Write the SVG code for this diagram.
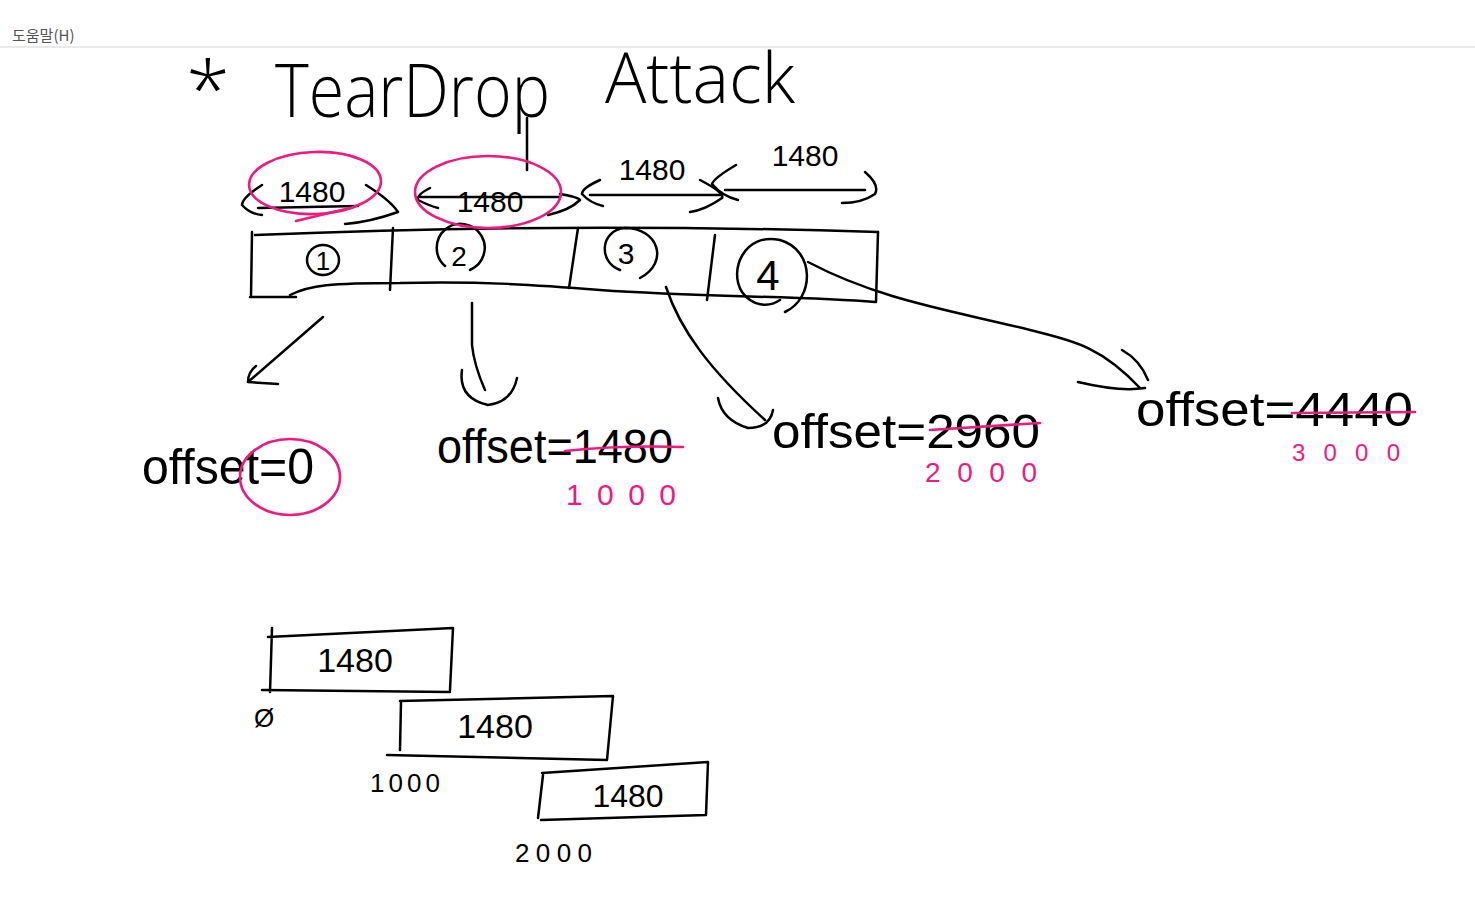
<svg xmlns="http://www.w3.org/2000/svg" width="1475" height="898" viewBox="0 0 1475 898">
<style>
.s{fill:none;stroke:#000;stroke-width:2.5;stroke-linecap:round;stroke-linejoin:round}
.p{fill:none;stroke:#ee1a7d;stroke-width:2.6;stroke-linecap:round;stroke-linejoin:round}
.t{font-family:"Liberation Sans",Arial,sans-serif;fill:#000}
.pt{font-family:"Liberation Sans",Arial,sans-serif;fill:#ee1a7d}
.h{font-family:"Open Sans","Liberation Sans",sans-serif;font-weight:300;fill:#000}
</style>
<rect width="1475" height="898" fill="#fff"/>
<g id="menu">
<text x="12" y="41" font-family="'Noto Sans CJK KR','Noto Sans',sans-serif" font-size="15" fill="#555">도움말(H)</text>
<line x1="0" y1="47" x2="1475" y2="47" stroke="#eaeaea" stroke-width="2"/>
</g>
<g id="title">
<text class="h" x="186" y="118" font-size="80">*</text>
<text class="h" x="275" y="117" font-size="74" textLength="275" lengthAdjust="spacingAndGlyphs">TearDrop</text>
<text class="h" x="605" y="103" font-size="70" textLength="190" lengthAdjust="spacingAndGlyphs">Attack</text>
<path class="s" d="M527,118 L527,170"/>
</g>
<g id="packet">
<path class="s" d="M255,235 Q560,222 878,232"/>
<path class="s" d="M252,232 L251,297 M250,297 L296,297"/>
<path class="s" d="M290,295 C310,285 330,283 400,283 C480,281 540,285 600,290 C700,297 800,296 875,302"/>
<path class="s" d="M878,232 L876,302"/>
<path class="s" d="M393,228 L390,290 M578,228 L569,288 M715,235 L707,300"/>
</g>
<g id="frag1">
<ellipse class="s" cx="323" cy="260" rx="16" ry="15"/>
<text class="t" x="323" y="270" font-size="26" text-anchor="middle">1</text>
</g>
<g id="frag2">
<path class="s" d="M470,270 A24,24 0 1 0 445,266"/>
<text class="t" x="459" y="266" font-size="28" text-anchor="middle">2</text>
</g>
<g id="frag3">
<path class="s" d="M640,278 C670,262 658,228 625,228 C600,230 598,262 620,270"/>
<text class="t" x="626" y="264" font-size="30" text-anchor="middle">3</text>
</g>
<g id="frag4">
<path class="s" d="M785,312 C815,298 815,250 780,240 C745,232 728,270 742,292 C752,306 768,308 780,300"/>
<text class="t" x="768" y="290" font-size="42" text-anchor="middle">4</text>
</g>
<g id="size1">
<text class="t" x="312" y="202" font-size="30" text-anchor="middle">1480</text>
<path class="s" d="M262,185 Q242,198 242,205 Q250,214 262,215 M258,208 L358,206 M366,185 Q390,200 398,212 Q370,222 345,224"/>
<ellipse class="p" cx="315" cy="183" rx="66" ry="31" transform="rotate(-2 315 183)"/>
<path class="p" d="M296,221 Q325,214 350,208"/>
</g>
<g id="size2">
<text class="t" x="490" y="212" font-size="30" text-anchor="middle">1480</text>
<path class="s" d="M430,188 Q416,195 418,200 Q430,206 438,208 M420,197 L560,197 M560,194 Q578,197 580,200 Q570,210 548,215"/>
<ellipse class="p" cx="488" cy="192" rx="73" ry="36"/>
</g>
<g id="size3">
<text class="t" x="652" y="180" font-size="30" text-anchor="middle">1480</text>
<path class="s" d="M600,180 Q582,188 582,194 Q590,203 603,206 M590,195 L720,195 M700,180 Q725,193 722,198 Q705,210 690,212"/>
</g>
<g id="size4">
<text class="t" x="805" y="166" font-size="30" text-anchor="middle">1480</text>
<path class="s" d="M736,165 Q714,178 712,184 Q722,196 738,200 M725,190 L865,190 M865,172 Q880,185 875,194 Q862,203 842,203"/>
</g>
<g id="connectors">
<path class="s" d="M323,317 L248,382 M248,382 L278,384 M248,382 Q248,372 256,366"/>
<path class="s" d="M472,303 L472,345 Q474,365 485,390 M462,370 Q458,398 488,405 Q512,402 517,378"/>
<path class="s" d="M666,287 C680,330 710,370 765,420 M718,398 Q722,420 748,428 Q770,428 773,410"/>
<path class="s" d="M808,262 C880,300 950,310 1030,330 C1070,340 1100,345 1140,388 M1078,382 Q1120,392 1145,388 M1122,350 Q1140,360 1148,380"/>
</g>
<g id="offset1">
<text class="t" x="142" y="484" font-size="50" textLength="172" lengthAdjust="spacingAndGlyphs">offset=0</text>
<ellipse class="p" cx="290" cy="477" rx="50" ry="38"/>
</g>
<g id="offset2">
<text class="t" x="437" y="463" font-size="48" textLength="236" lengthAdjust="spacingAndGlyphs">offset=1480</text>
<path class="p" d="M565,451 Q620,445 683,447"/>
<text class="pt" x="566" y="505" font-size="30" textLength="110" lengthAdjust="spacing">1000</text>
</g>
<g id="offset3">
<text class="t" x="772" y="448" font-size="48" textLength="268" lengthAdjust="spacingAndGlyphs">offset=2960</text>
<path class="p" d="M930,430 L1040,423"/>
<text class="pt" x="925" y="482" font-size="28" textLength="112" lengthAdjust="spacing">2000</text>
</g>
<g id="offset4">
<text class="t" x="1136" y="426" font-size="48" textLength="277" lengthAdjust="spacingAndGlyphs">offset=4440</text>
<path class="p" d="M1292,413 L1415,412"/>
<text class="pt" x="1292" y="461" font-size="24" textLength="108" lengthAdjust="spacing">3000</text>
</g>
<g id="piece1">
<path class="s" d="M272,628 L270,692 M268,637 L453,628 L450,690 M262,690 L450,692"/>
<text class="t" x="355" y="672" font-size="34" text-anchor="middle">1480</text>
<text class="t" x="264" y="727" font-size="26" text-anchor="middle">Ø</text>
</g>
<g id="piece2">
<path class="s" d="M401,702 L400,750 M400,701 L613,696 L607,760 M387,755 L607,760"/>
<text class="t" x="495" y="738" font-size="34" text-anchor="middle">1480</text>
<text class="t" x="370" y="792" font-size="26" textLength="70" lengthAdjust="spacing">1000</text>
</g>
<g id="piece3">
<path class="s" d="M543,775 L538,818 M542,773 L708,762 L706,815 M541,820 L706,815"/>
<text class="t" x="628" y="807" font-size="32" text-anchor="middle">1480</text>
<text class="t" x="515" y="862" font-size="26" textLength="77" lengthAdjust="spacing">2000</text>
</g>
</svg>
